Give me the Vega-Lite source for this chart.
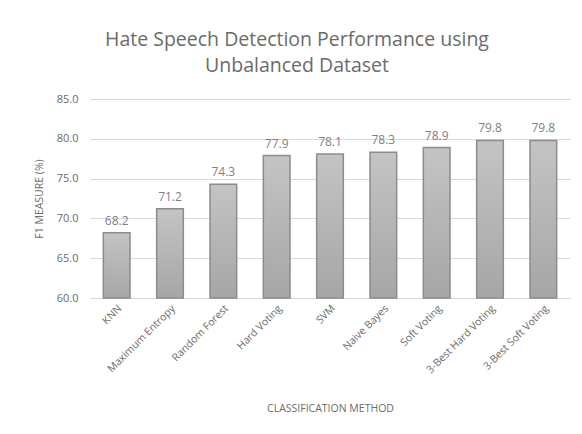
{
  "$schema": "https://vega.github.io/schema/vega-lite/v6.json",
  "width": 480,
  "height": 199,
  "autosize": {"type": "none"},
  "padding": {"left": 90, "top": 99, "right": 12, "bottom": 136},
  "background": "white",
  "title": {
    "text": ["Hate Speech Detection Performance using", "Unbalanced Dataset"],
    "font": "Open Sans",
    "fontSize": 19.5,
    "fontWeight": "normal",
    "color": "#6b6b6b",
    "lineHeight": 26,
    "anchor": "middle",
    "frame": "group",
    "dx": -33,
    "offset": 17
  },
  "config": {
    "view": {"stroke": null},
    "axis": {
      "labelFont": "Open Sans",
      "titleFont": "Open Sans",
      "labelColor": "#6b6b6b",
      "titleColor": "#6b6b6b",
      "titleFontWeight": "normal",
      "gridColor": "#d9d9d9",
      "domainColor": "#d9d9d9",
      "ticks": false
    }
  },
  "data": {
    "values": [
      {"method": "KNN", "f1": 68.2},
      {"method": "Maximum Entropy", "f1": 71.2},
      {"method": "Random Forest", "f1": 74.3},
      {"method": "Hard Voting", "f1": 77.9},
      {"method": "SVM", "f1": 78.1},
      {"method": "Naive Bayes", "f1": 78.3},
      {"method": "Soft Voting", "f1": 78.9},
      {"method": "3-Best Hard Voting", "f1": 79.8},
      {"method": "3-Best Soft Voting", "f1": 79.8}
    ]
  },
  "encoding": {
    "x": {
      "field": "method",
      "type": "nominal",
      "sort": null,
      "scale": {"paddingInner": 0.5, "paddingOuter": 0.25},
      "axis": {
        "title": "CLASSIFICATION METHOD",
        "titleFontSize": 10.5,
        "titlePadding": 28,
        "labelAngle": -45,
        "labelAlign": "right",
        "labelBaseline": "top",
        "labelFontSize": 10.5,
        "labelPadding": 5,
        "domain": true,
        "grid": false
      }
    },
    "y": {
      "field": "f1",
      "type": "quantitative",
      "scale": {"domain": [60, 85], "zero": false},
      "axis": {
        "title": "F1 MEASURE (%)",
        "titleFontSize": 10.5,
        "titlePadding": 12,
        "labelFontSize": 11,
        "labelPadding": 12,
        "values": [60, 65, 70, 75, 80, 85],
        "format": ".1f",
        "domain": false,
        "grid": true
      }
    }
  },
  "layer": [
    {
      "mark": {
        "type": "bar",
        "stroke": "#8c8c8c",
        "strokeWidth": 1.5,
        "color": {
          "gradient": "linear",
          "x1": 0, "y1": 0, "x2": 0, "y2": 1,
          "stops": [
            {"offset": 0, "color": "#c4c4c4"},
            {"offset": 1, "color": "#a6a6a6"}
          ]
        }
      },
      "encoding": {"y2": {"datum": 60}}
    },
    {
      "mark": {
        "type": "text",
        "dy": -12,
        "font": "Open Sans",
        "fontSize": 12,
        "color": "#7f7f7f"
      },
      "encoding": {"text": {"field": "f1", "type": "quantitative", "format": ".1f"}}
    }
  ]
}
